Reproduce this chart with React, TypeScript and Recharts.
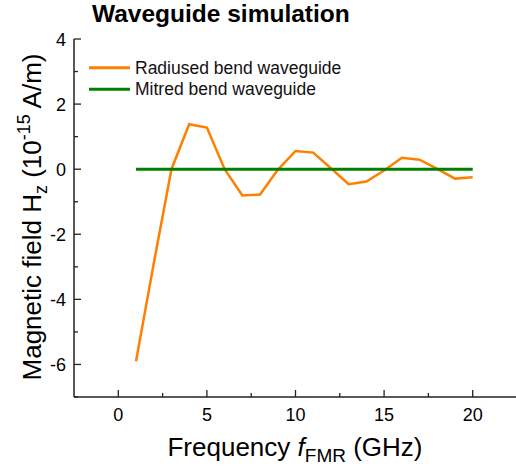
import { LineChart, Line, XAxis, YAxis, Legend } from 'recharts'

const freqs = [1, 2, 3, 4, 5, 6, 7, 8, 9, 10, 11, 12, 13, 14, 15, 16, 17, 18, 19, 20]
const radiusedField = [
  -5.9, -2.9, 0.0, 1.38, 1.28, 0.0, -0.81, -0.78, -0.02, 0.56,
  0.51, 0.03, -0.46, -0.38, -0.04, 0.35, 0.29, 0.01, -0.29, -0.25,
]
const mitredField = [0, 0, 0, 0, 0, 0, 0, 0, 0, 0, 0, 0, 0, 0, 0, 0, 0, 0, 0, 0]

const seriesNames = ['Radiused bend waveguide', 'Mitred bend waveguide']

const xTicks = [0, 2.5, 5, 7.5, 10, 12.5, 15, 17.5, 20]
const xMajor = [0, 5, 10, 15, 20]
const yTicks = [-7, -6, -5, -4, -3, -2, -1, 0, 1, 2, 3, 4]
const yMajor = [-6, -4, -2, 0, 2, 4]

const data = freqs.map((f, i) => ({ f, radiused: radiusedField[i], mitred: mitredField[i] }))

const FONT = '"Liberation Sans", Arial, sans-serif'
const AXIS = '#222'

function BottomTick({ x, y, payload }: any) {
  const major = xMajor.includes(payload.value)
  return (
    <g>
      <line x1={x} x2={x} y1={y} y2={y - (major ? 7 : 4)} stroke={AXIS} strokeWidth={1.3} />
      {major && (
        <text x={x} y={y + 24} textAnchor="middle" fontSize={18} fill="#000" fontFamily={FONT}>
          {payload.value}
        </text>
      )}
    </g>
  )
}

function TopTick({ x, y, payload }: any) {
  const major = xMajor.includes(payload.value)
  return <line x1={x} x2={x} y1={y} y2={y + (major ? 7 : 4)} stroke={AXIS} strokeWidth={1.3} />
}

function LeftTick({ x, y, payload }: any) {
  const major = yMajor.includes(payload.value)
  return (
    <g>
      <line x1={x} x2={x + (major ? 7 : 4)} y1={y} y2={y} stroke={AXIS} strokeWidth={1.3} />
      {major && (
        <text x={x - 8} y={y + 6.5} textAnchor="end" fontSize={18} fill="#000" fontFamily={FONT}>
          {payload.value}
        </text>
      )}
    </g>
  )
}

function RightTick({ x, y, payload }: any) {
  const major = yMajor.includes(payload.value)
  return <line x1={x} x2={x - (major ? 7 : 4)} y1={y} y2={y} stroke={AXIS} strokeWidth={1.3} />
}

function XTitle() {
  return (
    <text x={295} y={456} textAnchor="middle" fontSize={26} fill="#000" fontFamily={FONT}>
      Frequency <tspan fontStyle="italic">f</tspan>
      <tspan fontSize={19} dy={6}>FMR</tspan>
      <tspan dy={-6}> (GHz)</tspan>
    </text>
  )
}

function YTitle() {
  return (
    <text
      x={0}
      y={0}
      transform="translate(41,217) rotate(-90)"
      textAnchor="middle"
      fontSize={26}
      fill="#000"
      fontFamily={FONT}
    >
      Magnetic field H<tspan fontSize={18} dy={6}>z</tspan>
      <tspan dy={-6}> (10</tspan>
      <tspan fontSize={18} dy={-11}>-15</tspan>
      <tspan dy={11}> A/m)</tspan>
    </text>
  )
}

function LegendBox({ payload }: any) {
  const items = [...(payload || [])].sort(
    (a: any, b: any) => seriesNames.indexOf(a.value) - seriesNames.indexOf(b.value),
  )
  return (
    <svg width={420} height={110} style={{ display: 'block' }}>
      {items.map((p: any, i: number) => (
        <g key={p.value}>
          <line x1={89} x2={130} y1={67.7 + i * 21.6} y2={67.7 + i * 21.6} stroke={p.color} strokeWidth={3} />
          <text x={135} y={73.8 + i * 21.6} fontSize={17.5} fill="#111" fontFamily={FONT}>
            {p.value}
          </text>
        </g>
      ))}
    </svg>
  )
}

export default function App() {
  return (
    <div
      style={{
        position: 'absolute',
        left: 0,
        top: 0,
        width: 516,
        height: 468,
        overflow: 'hidden',
        background: '#fff',
        fontFamily: FONT,
      }}
    >
      <div
        style={{
          position: 'absolute',
          left: 92,
          top: 2,
          fontSize: 24.5,
          lineHeight: '24px',
          fontWeight: 'bold',
          color: '#000',
          whiteSpace: 'nowrap',
        }}
      >
        Waveguide simulation
      </div>
      <LineChart width={521} height={468} data={data} margin={{ top: 39, right: 4, bottom: 0, left: 0 }}>
        <XAxis
          dataKey="f"
          type="number"
          domain={[-2.5, 22.5]}
          ticks={xTicks}
          interval={0}
          height={71}
          tickSize={0}
          tickMargin={0}
          tickLine={false}
          tick={BottomTick}
          axisLine={{ stroke: AXIS, strokeWidth: 1.5 }}
          label={<XTitle />}
        />
        <XAxis
          xAxisId="top"
          orientation="top"
          dataKey="f"
          type="number"
          domain={[-2.5, 22.5]}
          ticks={xTicks}
          interval={0}
          height={0}
          tickSize={0}
          tickMargin={0}
          tickLine={false}
          tick={TopTick}
          axisLine={{ stroke: AXIS, strokeWidth: 1.5 }}
        />
        <YAxis
          type="number"
          domain={[-7, 4]}
          ticks={yTicks}
          interval={0}
          width={74}
          tickSize={0}
          tickMargin={0}
          tickLine={false}
          tick={LeftTick}
          axisLine={{ stroke: AXIS, strokeWidth: 1.5 }}
          label={<YTitle />}
        />
        <YAxis
          yAxisId="right"
          orientation="right"
          type="number"
          domain={[-7, 4]}
          ticks={yTicks}
          interval={0}
          width={0}
          tickSize={0}
          tickMargin={0}
          tickLine={false}
          tick={RightTick}
          axisLine={{ stroke: AXIS, strokeWidth: 1.5 }}
        />
        <Legend
          layout="horizontal"
          verticalAlign="middle"
          align="center"
          content={LegendBox}
          wrapperStyle={{ left: 0, top: 0, width: 420, height: 110 }}
        />
        <Line
          type="linear"
          dataKey="radiused"
          name={seriesNames[0]}
          stroke="#ff7f00"
          strokeWidth={2.5}
          dot={false}
          isAnimationActive={false}
        />
        <Line
          type="linear"
          dataKey="mitred"
          name={seriesNames[1]}
          stroke="#008000"
          strokeWidth={3}
          dot={false}
          isAnimationActive={false}
        />
      </LineChart>
    </div>
  )
}
